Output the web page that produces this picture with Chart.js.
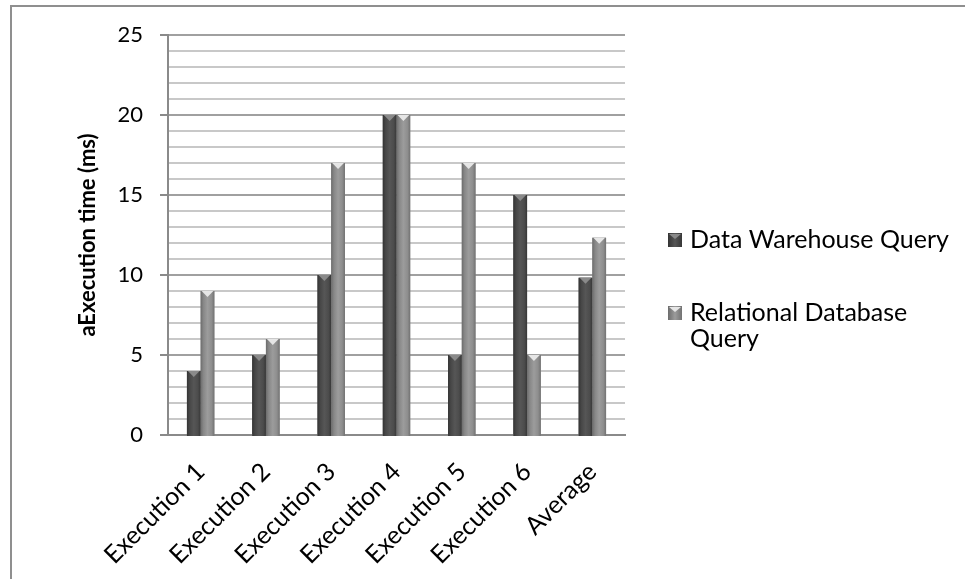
<!DOCTYPE html>
<html>
<head>
<meta charset="utf-8">
<script src="https://cdn.jsdelivr.net/npm/chart.js@4.4.1/dist/chart.umd.min.js"></script>
<style>
  html, body { margin: 0; padding: 0; background: #fff; overflow: hidden; }
  #wrap { position: relative; width: 965px; height: 579px; }
  #frame { position: absolute; left: 10px; top: 5px; width: 1000px; height: 700px;
           border-left: 2px solid #8f8f8f; border-top: 2px solid #8f8f8f; box-sizing: border-box; }
  canvas { position: absolute; left: 0; top: 0; }
</style>
</head>
<body>
<div id="wrap">
  <div id="frame"></div>
  <canvas id="chart" width="965" height="579"></canvas>
</div>
<script>
// Query timings per run (ms)
const categories = ['Execution 1', 'Execution 2', 'Execution 3', 'Execution 4', 'Execution 5', 'Execution 6', 'Average'];
const warehouseTimes = [4, 5, 10, 20, 5, 15, 9.83];
const relationalTimes = [9, 6, 17, 20, 17, 5, 12.33];
const seriesNames = ['Data Warehouse Query', 'Relational Database Query'];
const yTickLabels = [0, 5, 10, 15, 20, 25];
const yAxisTitle = 'aExecution time (ms)';

const FONT = 'Lato, "Open Sans", sans-serif';

// Shading used for each series' cylinder-like bars
const shades = [
  { base: '#4a4a4a', stops: ['#343434', '#474747', '#565656', '#4c4c4c', '#373737'], cap: '#8a8a8a' },
  { base: '#8c8c8c', stops: ['#6c6c6c', '#878787', '#9c9c9c', '#8e8e8e', '#727272'], cap: '#e6e6e6' }
];

const barShading = {
  id: 'barShading',
  afterDatasetsDraw(chart) {
    const ctx = chart.ctx;
    chart.data.datasets.forEach((ds, di) => {
      const meta = chart.getDatasetMeta(di);
      const sh = shades[di];
      meta.data.forEach(bar => {
        const w = bar.width, left = bar.x - w / 2, top = bar.y, h = bar.base - bar.y;
        ctx.save();
        const g = ctx.createLinearGradient(left, 0, left + w, 0);
        g.addColorStop(0, sh.stops[0]);
        g.addColorStop(0.2, sh.stops[1]);
        g.addColorStop(0.5, sh.stops[2]);
        g.addColorStop(0.8, sh.stops[3]);
        g.addColorStop(1, sh.stops[4]);
        ctx.fillStyle = g;
        ctx.fillRect(left, top, w, h + 2);
        // bevelled top
        ctx.beginPath();
        ctx.moveTo(left + 1, top);
        ctx.lineTo(left + w - 1, top);
        ctx.lineTo(bar.x, top + 6);
        ctx.closePath();
        ctx.fillStyle = sh.cap;
        ctx.fill();
        ctx.restore();
      });
    });
  }
};

// Legend on the right with wrapped labels
const sideLegend = {
  id: 'sideLegend',
  afterDraw(chart) {
    const ctx = chart.ctx;
    const x0 = 668, textX = 690, maxW = 265, lineH = 26;
    let y = 240;
    ctx.save();
    ctx.font = '25px ' + FONT;
    ctx.textBaseline = 'middle';
    ctx.fillStyle = '#000';
    chart.data.datasets.forEach((ds, di) => {
      const words = ds.label.split(' ');
      const lines = [];
      let cur = '';
      words.forEach(wd => {
        const t = cur ? cur + ' ' + wd : wd;
        if (ctx.measureText(t).width > maxW && cur) { lines.push(cur); cur = wd; }
        else cur = t;
      });
      lines.push(cur);
      const sh = shades[di];
      const s = 14, sx = x0, sy = y - s / 2;
      const g = ctx.createLinearGradient(sx, 0, sx + s, 0);
      g.addColorStop(0, sh.stops[0]);
      g.addColorStop(0.5, sh.stops[2]);
      g.addColorStop(1, sh.stops[4]);
      ctx.fillStyle = g;
      ctx.fillRect(sx, sy, s, s);
      ctx.beginPath();
      ctx.moveTo(sx + 1, sy + 1);
      ctx.lineTo(sx + s - 1, sy + 1);
      ctx.lineTo(sx + s / 2, sy + 6);
      ctx.closePath();
      ctx.fillStyle = sh.cap;
      ctx.fill();
      ctx.fillStyle = '#000';
      lines.forEach((ln, i) => ctx.fillText(ln, textX, y + i * lineH));
      y += lines.length * lineH + 47;
    });
    ctx.restore();
  }
};

new Chart(document.getElementById('chart'), {
  type: 'bar',
  data: {
    labels: categories,
    datasets: [
      { label: seriesNames[0], data: warehouseTimes, backgroundColor: shades[0].base, borderWidth: 0 },
      { label: seriesNames[1], data: relationalTimes, backgroundColor: shades[1].base, borderWidth: 0 }
    ]
  },
  options: {
    responsive: false,
    animation: false,
    devicePixelRatio: 1,
    layout: { padding: { left: 0, top: 35, right: 340, bottom: 0 } },
    categoryPercentage: 0.42,
    barPercentage: 1,
    plugins: { legend: { display: false }, tooltip: { enabled: false } },
    scales: {
      x: {
        afterFit(scale) { scale.height = 144; },
        grid: { display: false },
        border: { display: true, color: '#8a8a8a', width: 2 },
        ticks: {
          color: '#000', minRotation: 45, maxRotation: 45, padding: 14,
          autoSkip: false,
          font: { family: FONT, size: 25 }
        }
      },
      y: {
        min: yTickLabels[0],
        max: yTickLabels[yTickLabels.length - 1],
        afterFit(scale) { scale.width = 168; },
        afterBuildTicks(scale) {
          const t = [];
          for (let v = scale.min; v <= scale.max; v++) t.push({ value: v });
          scale.ticks = t;
        },
        border: { display: true, color: '#8a8a8a', width: 2 },
        grid: {
          lineWidth: 2,
          tickLength: 8,
          color: c => (yTickLabels.includes(c.tick.value) ? '#a0a0a0' : '#c8c8c8'),
          tickColor: c => (yTickLabels.includes(c.tick.value) ? '#8a8a8a' : 'rgba(0,0,0,0)')
        },
        ticks: {
          color: '#000', padding: 17,
          autoSkip: false,
          font: { family: FONT, size: 22 },
          callback: v => (yTickLabels.includes(v) ? String(v) : '')
        },
        title: {
          display: true, text: yAxisTitle, color: '#000',
          font: { family: FONT, size: 22, weight: 'bold' },
          padding: { top: 75, bottom: 0 }
        }
      }
    }
  },
  plugins: [barShading, sideLegend]
});
</script>
</body>
</html>
